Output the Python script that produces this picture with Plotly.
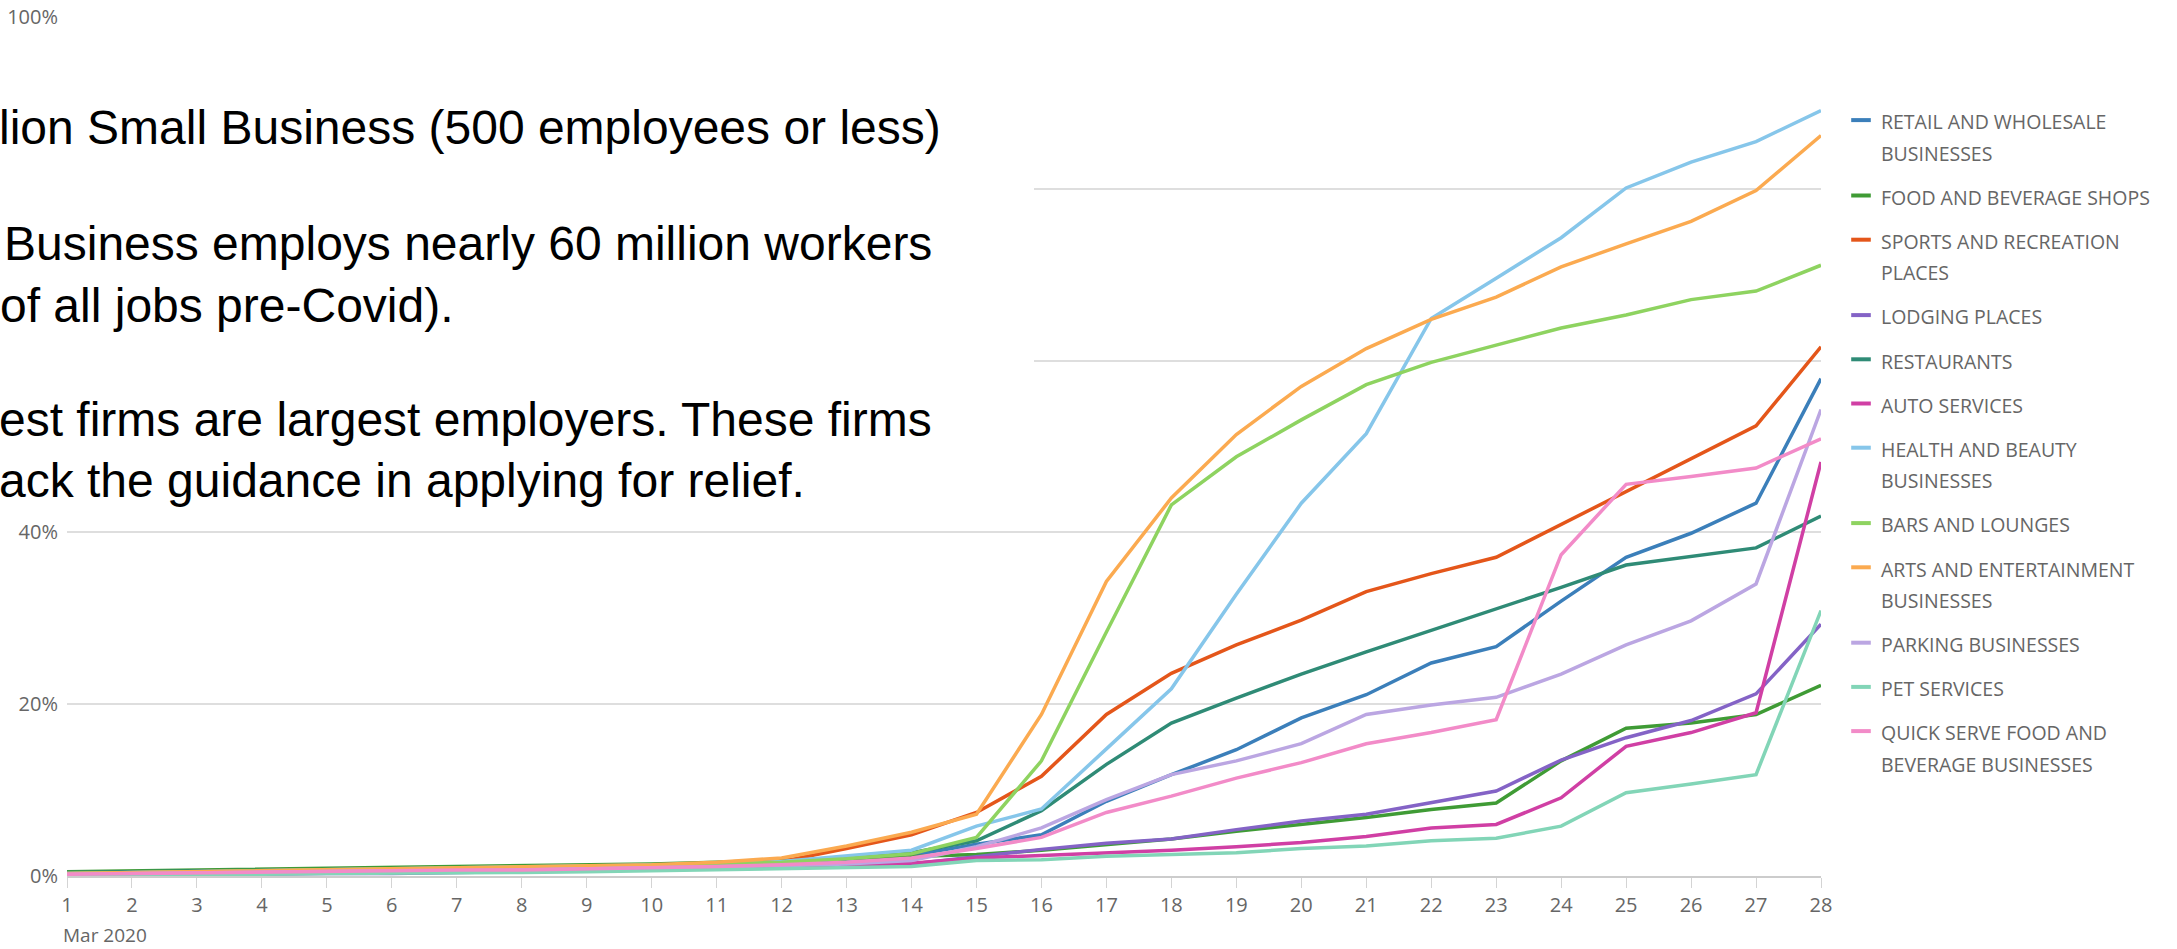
import plotly.graph_objects as go

# ---------------- data ----------------
days = list(range(1, 29))
dates = [f"2020-03-{d:02d}" for d in days]
tick_labels = [str(d) for d in days]

series_names = [
    "RETAIL AND WHOLESALE<br>BUSINESSES",
    "FOOD AND BEVERAGE SHOPS",
    "SPORTS AND RECREATION<br>PLACES",
    "LODGING PLACES",
    "RESTAURANTS",
    "AUTO SERVICES",
    "HEALTH AND BEAUTY<br>BUSINESSES",
    "BARS AND LOUNGES",
    "ARTS AND ENTERTAINMENT<br>BUSINESSES",
    "PARKING BUSINESSES",
    "PET SERVICES",
    "QUICK SERVE FOOD AND<br>BEVERAGE BUSINESSES",
]

retail = [0.3, 0.4, 0.5, 0.6, 0.7, 0.8, 0.9, 0.9, 1.0, 1.1, 1.3, 1.5,
          1.9, 2.4, 3.7, 4.8, 8.7, 11.8, 14.7, 18.4, 21.1, 24.8, 26.7, 32.0, 37.1, 39.9, 43.4, 57.9]
food = [0.5, 0.6, 0.7, 0.8, 0.9, 1.0, 1.1, 1.1, 1.2, 1.4, 1.6, 1.8,
        2.0, 2.2, 2.5, 3.0, 3.7, 4.3, 5.2, 6.0, 6.8, 7.75, 8.5, 13.4, 17.2, 17.8, 18.8, 22.2]
sports = [0.1, 0.2, 0.3, 0.4, 0.5, 0.6, 0.7, 0.8, 0.9, 1.1, 1.4, 1.7,
          3.2, 4.8, 7.4, 11.6, 18.8, 23.6, 26.9, 29.8, 33.1, 35.2, 37.1, 40.9, 44.8, 48.6, 52.4, 61.6]
lodging = [0.0, 0.1, 0.1, 0.2, 0.3, 0.3, 0.4, 0.5, 0.6, 0.7, 0.8, 0.9,
           1.1, 1.4, 2.3, 3.1, 3.8, 4.3, 5.4, 6.4, 7.2, 8.5, 9.9, 13.5, 16.1, 18.1, 21.2, 29.3]
restaurants = [0.4, 0.5, 0.6, 0.7, 0.8, 0.9, 1.0, 1.0, 1.1, 1.3, 1.5, 1.7,
               2.1, 2.7, 4.1, 7.6, 13.0, 17.8, 20.7, 23.5, 26.1, 28.6, 31.0, 33.6, 36.2, 37.2, 38.2, 41.9]
auto = [0.1, 0.2, 0.2, 0.3, 0.4, 0.5, 0.5, 0.6, 0.7, 0.8, 0.9, 1.0,
        1.2, 1.5, 2.1, 2.4, 2.7, 3.0, 3.4, 3.9, 4.6, 5.6, 6.0, 9.1, 15.1, 16.7, 19.0, 48.2]
health = [0.3, 0.4, 0.5, 0.6, 0.7, 0.8, 0.9, 1.0, 1.1, 1.2, 1.4, 1.7,
          2.4, 3.0, 5.8, 7.8, 14.8, 21.8, 32.8, 43.4, 51.5, 64.9, 69.6, 74.3, 80.1, 83.1, 85.5, 89.1]
bars = [0.3, 0.4, 0.5, 0.6, 0.7, 0.8, 0.8, 0.9, 1.0, 1.2, 1.4, 1.6,
        2.0, 2.6, 4.5, 13.4, 28.4, 43.2, 48.8, 53.1, 57.2, 59.8, 61.8, 63.8, 65.3, 67.1, 68.1, 71.1]
arts = [0.3, 0.4, 0.5, 0.6, 0.7, 0.8, 0.9, 1.0, 1.1, 1.3, 1.6, 2.1,
        3.5, 5.1, 7.2, 18.8, 34.3, 44.0, 51.4, 57.0, 61.4, 64.8, 67.4, 70.9, 73.6, 76.2, 79.8, 86.2]
parking = [0.2, 0.3, 0.3, 0.4, 0.5, 0.6, 0.6, 0.7, 0.8, 0.9, 1.0, 1.2,
           1.4, 1.8, 3.4, 5.6, 8.9, 11.8, 13.4, 15.4, 18.8, 19.9, 20.8, 23.5, 26.9, 29.7, 34.0, 54.3]
pet = [0.1, 0.1, 0.2, 0.2, 0.3, 0.3, 0.4, 0.4, 0.5, 0.6, 0.7, 0.8,
       0.9, 1.1, 1.8, 1.9, 2.3, 2.5, 2.7, 3.2, 3.5, 4.1, 4.4, 5.8, 9.7, 10.7, 11.8, 30.9]
quick = [0.2, 0.3, 0.4, 0.4, 0.5, 0.6, 0.7, 0.7, 0.8, 0.9, 1.1, 1.3,
         1.6, 2.1, 3.2, 4.5, 7.4, 9.3, 11.4, 13.2, 15.4, 16.7, 18.2, 37.4, 45.6, 46.5, 47.5, 50.9]

series_values = [retail, food, sports, lodging, restaurants, auto,
                 health, bars, arts, parking, pet, quick]

series_colors = ["#3b7fba", "#3f9b35", "#e4561a", "#8463c6", "#2f8b76", "#d03fa4",
                 "#86c6ea", "#8ed360", "#fbaa50", "#bba6e2", "#82d5b7", "#f28bc8"]

y_tick_vals = [0, 20, 40, 60, 80, 100]
y_tick_text = ["0%", "20%", "40%", "60%", "80%", "100%"]

text_lines = [
    "lion Small Business (500 employees or less)",
    "Business employs nearly 60 million workers",
    "of all jobs pre-Covid).",
    "est firms are largest employers. These firms",
    "ack the guidance in applying for relief.",
]

# ---------------- layout constants ----------------
W, H = 2177, 949
L, R, T, B = 67, 2177 - 1821, 17, 73
PW = W - L - R
PH = H - T - B


def px_x(p):
    return (p - L) / PW


def px_y(p):
    return (H - B - p) / PH


fig = go.Figure()

for name, vals, col in zip(series_names, series_values, series_colors):
    fig.add_trace(go.Scatter(
        x=dates, y=vals, mode="lines", name=name.replace("<br>", " "),
        line=dict(color=col, width=3.5), showlegend=False,
        hovertemplate="%{y:.1f}%<extra></extra>",
    ))

# legend entries (short dash symbols); base legend font sets line spacing,
# glyphs drawn a bit smaller
for name, col in zip(series_names, series_colors):
    label = "<br>".join(f'<span style="font-size:19.5px">{part}</span>'
                        for part in name.split("<br>"))
    fig.add_trace(go.Scatter(
        x=[None], y=[None], mode="markers", name=label, legendgroup=name,
        marker=dict(symbol="line-ew", size=14, color=col, line=dict(color=col, width=4)),
        showlegend=True, hoverinfo="skip",
    ))

# white overlay box (text panel)
fig.add_shape(type="rect", xref="paper", yref="paper",
              x0=px_x(-10), x1=px_x(1034), y0=px_y(515), y1=px_y(30),
              fillcolor="white", line=dict(width=0), layer="above")

line_centers = [128, 243, 305, 419, 480]
line_lefts = [-2, 3, -1, -2, -2]
for txt, cy, lx in zip(text_lines, line_centers, line_lefts):
    fig.add_annotation(text=txt, xref="paper", yref="paper",
                       x=px_x(lx), y=px_y(cy), xanchor="left", yanchor="middle",
                       showarrow=False, borderpad=0,
                       font=dict(family="Liberation Sans, Arial", size=48, color="black"))

fig.add_annotation(text="Mar 2020", xref="x", yref="paper", x=dates[0], y=0,
                   xanchor="left", yanchor="top", xshift=-6, yshift=-44, showarrow=False,
                   font=dict(family="Open Sans", size=19, color="#666666"))

fig.update_layout(
    width=W, height=H, autosize=False,
    margin=dict(l=L, r=R, t=T, b=B),
    paper_bgcolor="white", plot_bgcolor="white",
    showlegend=True,
    legend=dict(x=px_x(1841), y=px_y(98), xanchor="left", yanchor="top",
                font=dict(family="Open Sans", size=24, color="#666666"),
                tracegroupgap=10, valign="top", itemsizing="trace",
                bgcolor="rgba(0,0,0,0)"),
    xaxis=dict(type="date", range=[dates[0], dates[-1]],
               tickvals=dates, ticktext=tick_labels,
               ticks="outside", ticklen=10, tickcolor="#d4d4d4", tickwidth=1,
               showline=True, linecolor="#cccccc", linewidth=2,
               showgrid=False, zeroline=False, automargin=False,
               tickfont=dict(family="Open Sans", size=20, color="#666666")),
    yaxis=dict(range=[0, 100], tickvals=y_tick_vals, ticktext=y_tick_text,
               showgrid=True, gridcolor="#dedede", gridwidth=2,
               zeroline=False, ticks="", ticklabelstandoff=8, automargin=False,
               tickfont=dict(family="Open Sans", size=20, color="#666666")),
)

fig.write_html("out.html", config={"displayModeBar": False})
